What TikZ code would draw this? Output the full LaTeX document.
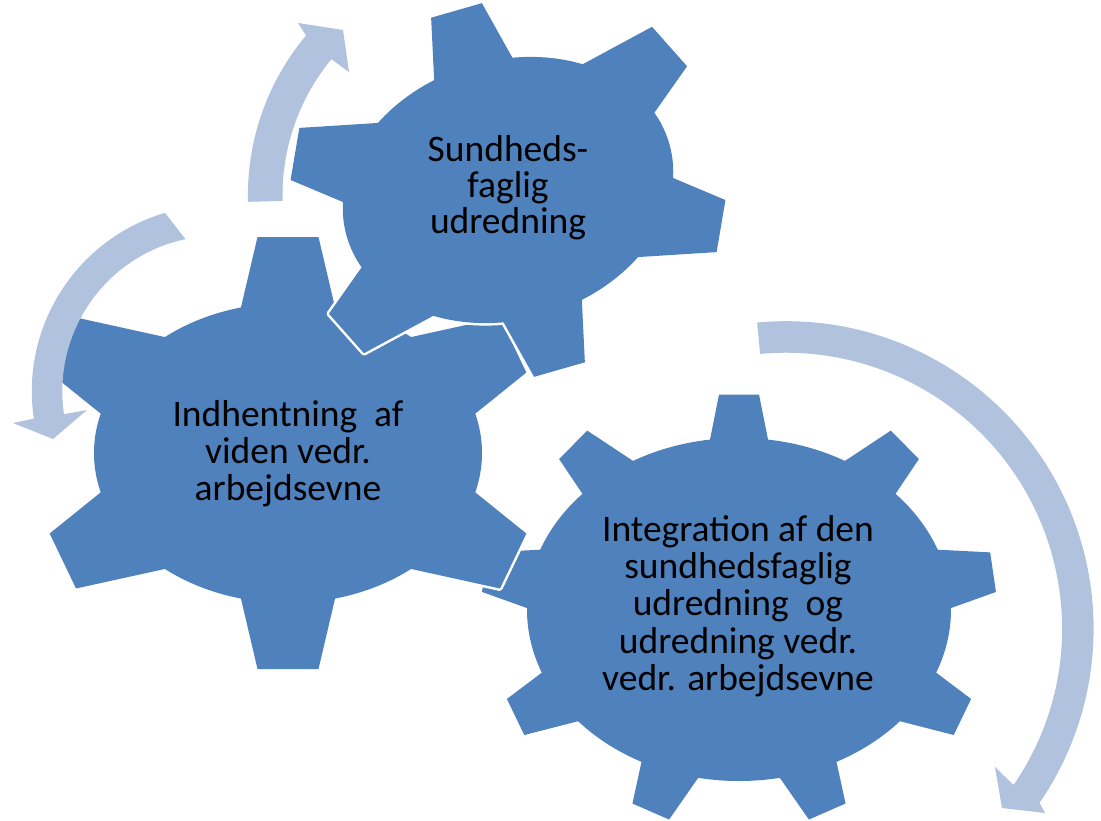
\documentclass[tikz,border=0pt]{standalone}
\usepackage{fontspec}
\setmainfont{Carlito}
\usetikzlibrary{calc}
\definecolor{gearblue}{RGB}{79,129,189}
\definecolor{arrowblue}{RGB}{176,194,222}
\tikzset{
  gearfill/.style={fill=gearblue},
  gearrim/.style={fill=white, draw=white, line width=5pt, line join=round},
  arrowfill/.style={fill=arrowblue},
  geartext/.style={align=center, text=black, inner sep=0pt, font=\fontsize{37.5}{37.2}\selectfont},
}
\newcommand\setgear[8]{\def\gW{#1}\def\gH{#2}\def\gRW{#3}\def\gRH{#4}\def\gN{#5}\def\gPhiZero{#6}\def\gWT{#7}\def\gTaper{#8}}
\newcommand\gearshape[1]{%
  \path[#1] (0,0) ellipse[x radius=\gRW pt, y radius=\gRH pt];
  \foreach \k in {1,...,\gN}{%
    \pgfmathsetmacro\gPhi{\gPhiZero-(\k-1)*360/\gN}%
    \pgfmathsetmacro\gTX{\gW*cos(\gPhi)}%
    \pgfmathsetmacro\gTY{\gH*sin(\gPhi)}%
    \pgfmathsetmacro\gTR{veclen(\gTX,\gTY)}%
    \pgfmathsetmacro\gTA{atan2(\gTY,\gTX)}%
    \pgfmathsetmacro\gBR{0.4*\gTR}%
    \pgfmathsetmacro\gBW{\gWT+\gTaper*(\gTR-\gBR)}%
    \path[#1,rotate=\gTA] (\gTR,\gWT) -- (\gTR,-\gWT) -- (\gBR,-\gBW) -- (\gBR,\gBW) -- cycle;
  }%
}
\begin{document}
\begin{tikzpicture}[x=1pt,y=1pt]
\fill[white] (0,0) rectangle (1101,-820);
\useasboundingbox (0,0) rectangle (1101,-820);

% gear 3 (bottom right, nine teeth)
\begin{scope}[shift={(739,-609.5)}]
  \setgear{258}{215}{212}{171.5}{9}{90}{20}{0.2}
  \gearshape{gearfill}
\end{scope}

% gear 2 (left, six teeth)
\begin{scope}[shift={(288,-453)}]
  \setgear{260}{216}{194}{150}{6}{90}{30.5}{0.235}
  \gearshape{gearrim}
  \gearshape{gearfill}
\end{scope}

% gear 1 (top, six teeth, rotated)
\begin{scope}[shift={(508,-190)}, rotate=16]
  \setgear{225}{186.8}{167.8}{129.8}{6}{90}{26.4}{0.235}
  \gearshape{gearrim}
  \gearshape{gearfill}
\end{scope}

% arrow around gear 1
\coordinate (A1) at (496.5,-195.3);
\coordinate (O1) at (298,-23);
\coordinate (T1) at (343,-30);
\coordinate (I1) at (349,-72);
\fill[arrowfill] ($(A1)+(181.5:248.6)$) arc[start angle=181.5, end angle=140, radius=248.6pt]
  -- (O1) -- (T1) -- (I1) -- ($(A1)+(140.5:214)$)
  arc[start angle=140.5, end angle=181.5, radius=214pt] -- cycle;

% arrow around gear 2
\coordinate (A2) at (217.8,-391.2);
\coordinate (O2) at (13,-423);
\coordinate (T2) at (53,-439);
\coordinate (I2) at (87,-410);
\fill[arrowfill] ($(A2)+(106.5:186)$) arc[start angle=106.5, end angle=188.5, radius=186pt]
  -- (O2) -- (T2) -- (I2) -- ($(A2)+(188.5:155.5)$)
  arc[start angle=188.5, end angle=102, radius=155.5pt] -- cycle;

% arrow around gear 3
\coordinate (A3) at (786.1,-628.7);
\coordinate (O3) at (1045,-813);
\coordinate (T3) at (1002,-808);
\coordinate (I3) at (995,-767);
\fill[arrowfill] ($(A3)+(95.4:307.5)$) arc[start angle=95.4, end angle=-34.5, radius=307.5pt]
  -- (O3) -- (T3) -- (I3) -- ($(A3)+(-34.5:276)$)
  arc[start angle=-34.5, end angle=95.4, radius=276pt] -- cycle;

% texts
\node[geartext, font=\fontsize{37.5}{36.2}\selectfont] (t1) at (508,-187.6) {Sundheds-\\faglig\\udredning};
\node[geartext] (t2) at (288,-453.8) {Indhentning\ \ af\\viden vedr.\\arbejdsevne};
\node[geartext] (t3) at (738,-606) {Integration af den\\sundhedsfaglig\\udredning\ \ og\\udredning vedr.\\vedr. arbejdsevne};
\end{tikzpicture}
\end{document}
